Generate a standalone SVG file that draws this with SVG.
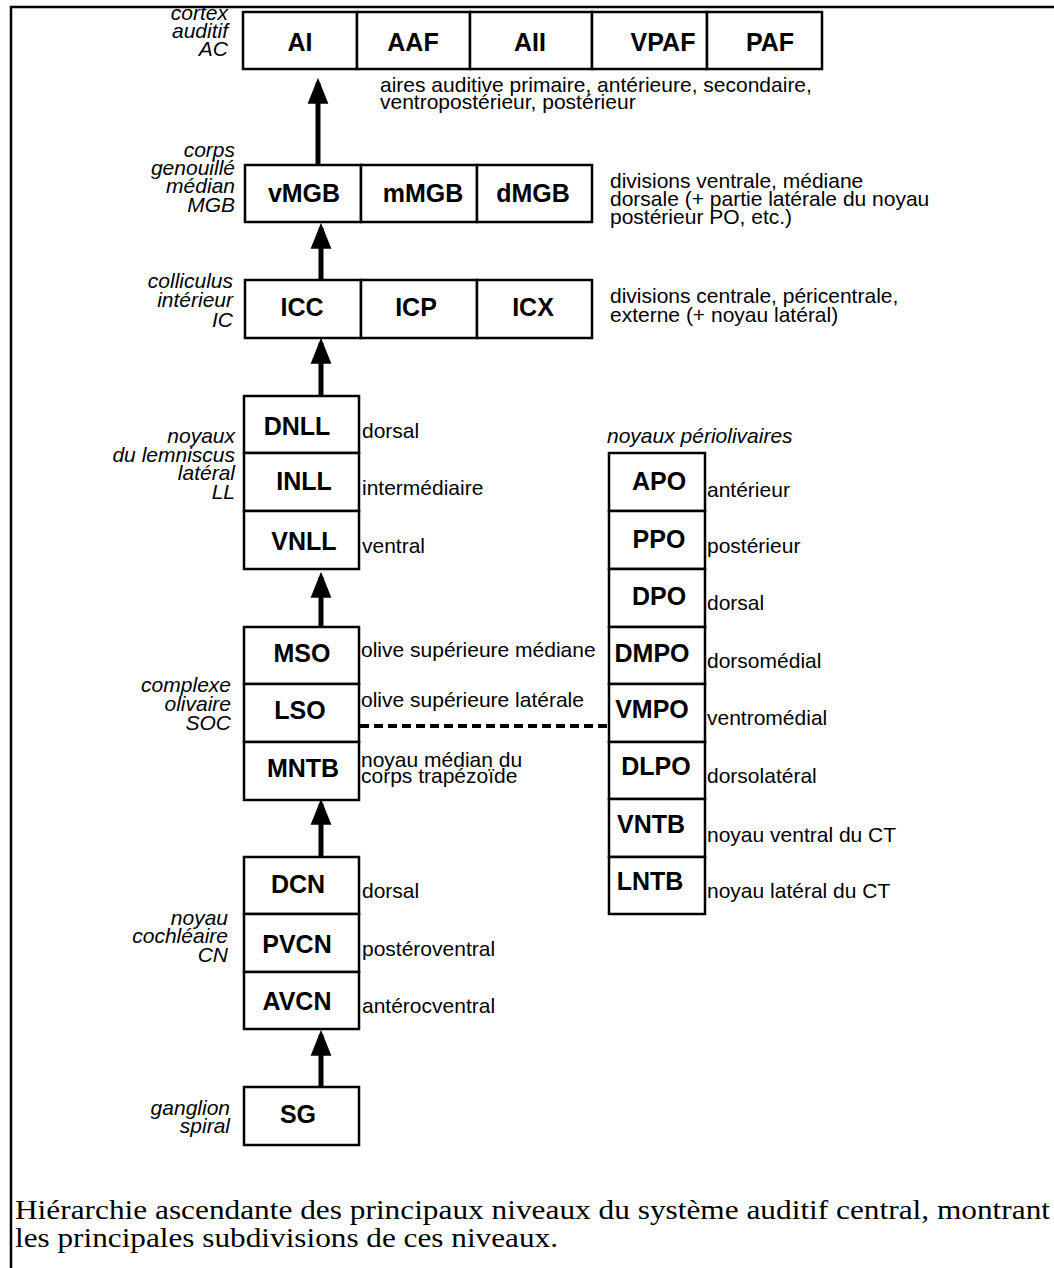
<svg xmlns="http://www.w3.org/2000/svg" width="1054" height="1268" viewBox="0 0 1054 1268">
<style>
.box{fill:#fff;stroke:#000;stroke-width:2.5}
.nl{font-family:"Liberation Sans",Arial,sans-serif;font-weight:bold;font-size:25px;text-anchor:middle;fill:#000}
.d{font-family:"Liberation Sans",Arial,sans-serif;font-size:21px;fill:#000}
.lv{font-family:"Liberation Sans",Arial,sans-serif;font-style:italic;font-size:21px;text-anchor:end;fill:#000}
.cap{font-family:"Liberation Serif","Times New Roman",serif;font-size:28px;fill:#000}
.shaft{stroke:#000;stroke-width:5;fill:none}
.dash{stroke:#000;stroke-width:4;stroke-dasharray:9 5;fill:none}
</style>
<defs>
<marker id="ah" markerUnits="userSpaceOnUse" markerWidth="26" markerHeight="32" refX="24" refY="12" orient="auto" viewBox="0 0 30 24">
<path d="M0,0 L30,12 L0,24 Z" fill="#000"/>
</marker>
</defs>
<rect width="1054" height="1268" fill="#fff"/>
<g id="frame"><path d="M1054,7 H11 V1268" fill="none" stroke="#000" stroke-width="2.5"/></g>

<g id="level-AC">
<text class="lv" x="228"><tspan x="228" y="20">cortex</tspan><tspan x="228" y="38">auditif</tspan><tspan x="228" y="56">AC</tspan></text>
</g>
<g id="AI"><rect class="box" x="243" y="12" width="114" height="57"/><text class="nl" x="300" y="51">AI</text></g>
<g id="AAF"><rect class="box" x="357" y="12" width="113" height="57"/><text class="nl" x="413" y="51">AAF</text></g>
<g id="AII"><rect class="box" x="470" y="12" width="122" height="57"/><text class="nl" x="530" y="51">AII</text></g>
<g id="VPAF"><rect class="box" x="592" y="12" width="115" height="57"/><text class="nl" x="663" y="51">VPAF</text></g>
<g id="PAF"><rect class="box" x="707" y="12" width="115" height="57"/><text class="nl" x="770" y="51">PAF</text></g>
<g id="desc-AC"><text class="d"><tspan x="380" y="92">aires auditive primaire, antérieure, secondaire,</tspan><tspan x="380" y="109">ventropostérieur, postérieur</tspan></text></g>

<g id="level-MGB">
<text class="lv"><tspan x="235" y="157">corps</tspan><tspan x="235" y="175">genouillé</tspan><tspan x="235" y="193">médian</tspan><tspan x="235" y="212">MGB</tspan></text>
</g>
<g id="vMGB"><rect class="box" x="245" y="165" width="116" height="57"/><text class="nl" x="304" y="202">vMGB</text></g>
<g id="mMGB"><rect class="box" x="361" y="165" width="116" height="57"/><text class="nl" x="423" y="202">mMGB</text></g>
<g id="dMGB"><rect class="box" x="477" y="165" width="115" height="57"/><text class="nl" x="533" y="202">dMGB</text></g>
<g id="desc-MGB"><text class="d"><tspan x="610" y="188">divisions ventrale, médiane</tspan><tspan x="610" y="206">dorsale (+ partie latérale du noyau</tspan><tspan x="610" y="224">postérieur PO, etc.)</tspan></text></g>

<g id="level-IC">
<text class="lv"><tspan x="233" y="288">colliculus</tspan><tspan x="233" y="307">intérieur</tspan><tspan x="233" y="327">IC</tspan></text>
</g>
<g id="ICC"><rect class="box" x="245" y="280" width="116" height="58"/><text class="nl" x="302" y="316">ICC</text></g>
<g id="ICP"><rect class="box" x="361" y="280" width="116" height="58"/><text class="nl" x="416" y="316">ICP</text></g>
<g id="ICX"><rect class="box" x="477" y="280" width="115" height="58"/><text class="nl" x="533" y="316">ICX</text></g>
<g id="desc-IC"><text class="d"><tspan x="610" y="303">divisions centrale, péricentrale,</tspan><tspan x="610" y="322">externe (+ noyau latéral)</tspan></text></g>

<g id="level-LL">
<text class="lv"><tspan x="235" y="443">noyaux</tspan><tspan x="235" y="462">du lemniscus</tspan><tspan x="235" y="480">latéral</tspan><tspan x="235" y="499">LL</tspan></text>
</g>
<g id="DNLL"><rect class="box" x="244" y="396" width="115" height="57"/><text class="nl" x="297" y="435">DNLL</text><text class="d" x="362" y="438">dorsal</text></g>
<g id="INLL"><rect class="box" x="244" y="453" width="115" height="58"/><text class="nl" x="304" y="490">INLL</text><text class="d" x="362" y="495">intermédiaire</text></g>
<g id="VNLL"><rect class="box" x="244" y="511" width="115" height="58"/><text class="nl" x="304" y="550">VNLL</text><text class="d" x="362" y="553">ventral</text></g>

<g id="level-SOC">
<text class="lv"><tspan x="231" y="692">complexe</tspan><tspan x="231" y="711">olivaire</tspan><tspan x="231" y="730">SOC</tspan></text>
</g>
<g id="MSO"><rect class="box" x="244" y="627" width="115" height="57"/><text class="nl" x="302" y="662">MSO</text><text class="d" x="361" y="657">olive supérieure médiane</text></g>
<g id="LSO"><rect class="box" x="244" y="684" width="115" height="58"/><text class="nl" x="300" y="719">LSO</text><text class="d" x="361" y="707">olive supérieure latérale</text></g>
<g id="MNTB"><rect class="box" x="244" y="742" width="115" height="58"/><text class="nl" x="303" y="777">MNTB</text><text class="d"><tspan x="361" y="767">noyau médian du</tspan><tspan x="361" y="783">corps trapézoïde</tspan></text></g>

<g id="level-PO"><text class="lv" style="text-anchor:start" x="607" y="443">noyaux périolivaires</text></g>
<g id="APO"><rect class="box" x="609" y="453" width="96" height="58"/><text class="nl" x="659" y="490">APO</text><text class="d" x="707" y="497">antérieur</text></g>
<g id="PPO"><rect class="box" x="609" y="511" width="96" height="58"/><text class="nl" x="659" y="548">PPO</text><text class="d" x="707" y="553">postérieur</text></g>
<g id="DPO"><rect class="box" x="609" y="569" width="96" height="58"/><text class="nl" x="659" y="605">DPO</text><text class="d" x="707" y="610">dorsal</text></g>
<g id="DMPO"><rect class="box" x="609" y="627" width="96" height="57"/><text class="nl" x="652" y="662">DMPO</text><text class="d" x="707" y="668">dorsomédial</text></g>
<g id="VMPO"><rect class="box" x="609" y="684" width="96" height="58"/><text class="nl" x="652" y="718">VMPO</text><text class="d" x="707" y="725">ventromédial</text></g>
<g id="DLPO"><rect class="box" x="609" y="742" width="96" height="57"/><text class="nl" x="656" y="775">DLPO</text><text class="d" x="707" y="783">dorsolatéral</text></g>
<g id="VNTB"><rect class="box" x="609" y="799" width="96" height="58"/><text class="nl" x="651" y="833">VNTB</text><text class="d" x="707" y="842">noyau ventral du CT</text></g>
<g id="LNTB"><rect class="box" x="609" y="857" width="96" height="57"/><text class="nl" x="650" y="890">LNTB</text><text class="d" x="707" y="898">noyau latéral du CT</text></g>

<g id="level-CN">
<text class="lv"><tspan x="228" y="925">noyau</tspan><tspan x="228" y="943">cochléaire</tspan><tspan x="228" y="962">CN</tspan></text>
</g>
<g id="DCN"><rect class="box" x="244" y="857" width="115" height="57"/><text class="nl" x="298" y="893">DCN</text><text class="d" x="362" y="898">dorsal</text></g>
<g id="PVCN"><rect class="box" x="244" y="914" width="115" height="58"/><text class="nl" x="297" y="953">PVCN</text><text class="d" x="362" y="956">postéroventral</text></g>
<g id="AVCN"><rect class="box" x="244" y="972" width="115" height="57"/><text class="nl" x="297" y="1010">AVCN</text><text class="d" x="362" y="1013">antérocventral</text></g>

<g id="level-SG">
<text class="lv"><tspan x="230" y="1115">ganglion</tspan><tspan x="230" y="1133">spiral</tspan></text>
</g>
<g id="SG"><rect class="box" x="244" y="1087" width="115" height="58"/><text class="nl" x="298" y="1123">SG</text></g>

<g id="connectors">
<line class="shaft" x1="318" y1="165" x2="318" y2="83" marker-end="url(#ah)"/>
<line class="shaft" x1="321" y1="280" x2="321" y2="228" marker-end="url(#ah)"/>
<line class="shaft" x1="321" y1="396" x2="321" y2="343" marker-end="url(#ah)"/>
<line class="shaft" x1="321" y1="627" x2="321" y2="577" marker-end="url(#ah)"/>
<line class="shaft" x1="321" y1="857" x2="321" y2="804" marker-end="url(#ah)"/>
<line class="shaft" x1="321" y1="1087" x2="321" y2="1035" marker-end="url(#ah)"/>
<line class="dash" x1="360" y1="726" x2="608" y2="726"/>
</g>

<g id="caption">
<text class="cap" x="15" y="1219" textLength="1035" lengthAdjust="spacingAndGlyphs">Hiérarchie ascendante des principaux niveaux du système auditif central, montrant</text>
<text class="cap" x="15" y="1247" textLength="543" lengthAdjust="spacingAndGlyphs">les principales subdivisions de ces niveaux.</text>
</g>
</svg>
